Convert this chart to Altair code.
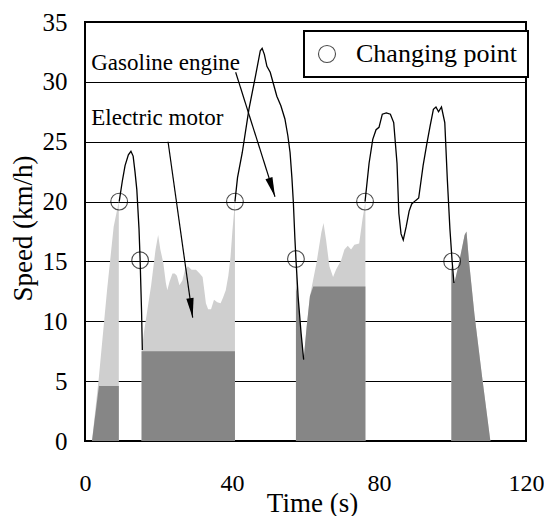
import altair as alt
import pandas as pd

# ---- Gasoline-engine speed trace (drawn as line), three segments ----
eng1_t = [9.3, 10.2, 10.9, 11.8, 12.5, 13.1, 13.6, 14.1, 14.7, 15.0, 15.4, 15.6]
eng1_v = [20.0, 21.8, 23.0, 23.9, 24.2, 23.8, 22.5, 21.0, 17.7, 15.1, 10.7, 7.6]
eng2_t = [40.8, 41.5, 42.8, 44.6, 46.4, 47.7, 48.2, 48.8, 49.5, 50.4, 51.3, 52.2,
          53.3, 54.4, 55.2, 55.8, 56.3, 56.7, 57.1, 57.4, 58.0, 58.8, 59.5]
eng2_v = [20.0, 22.0, 24.1, 27.7, 30.5, 32.6, 32.8, 32.3, 31.3, 30.8, 29.8, 28.8,
          28.0, 26.9, 25.5, 24.1, 22.0, 19.9, 17.0, 15.2, 12.0, 9.0, 6.8]
eng3_t = [76.2, 77.3, 78.3, 79.2, 80.0, 80.9, 82.0, 83.1, 84.0, 84.9, 85.4, 86.0,
          86.6, 87.4, 88.2, 88.9, 90.0, 90.8, 92.0, 93.0, 93.9, 94.8, 95.5, 96.2,
          97.0, 97.9, 98.6, 99.3, 99.9, 100.4]
eng3_v = [20.0, 23.2, 25.2, 26.0, 26.2, 27.3, 27.4, 27.3, 26.6, 23.2, 19.0, 17.3,
          16.8, 17.9, 19.2, 19.8, 20.1, 20.3, 23.0, 24.8, 26.3, 27.7, 27.9, 27.5,
          27.9, 26.6, 21.8, 17.7, 15.0, 13.2]

# ---- Electric-motor driven parts (shaded areas) ----
mot1_t = [1.9, 3.8, 6.0, 7.8, 9.2]
mot1_v = [0.0, 5.4, 12.6, 17.9, 20.0]
mot2_t = [15.4, 16.0, 17.0, 18.0, 19.2, 19.9, 20.5, 21.3, 22.0, 22.4, 23.0, 23.8,
          24.4, 25.0, 25.7, 26.5, 27.2, 28.0, 29.0, 30.2, 31.2, 32.0, 32.5, 32.9,
          33.5, 34.3, 35.1, 36.0, 36.9, 37.6, 38.3, 39.0, 39.6, 40.1, 40.8]
mot2_v = [7.5, 9.0, 11.0, 13.0, 16.0, 17.2, 16.0, 14.9, 13.2, 12.6, 13.3, 14.0,
          14.0, 13.8, 13.0, 13.4, 14.3, 14.6, 14.3, 14.3, 14.0, 13.7, 12.5, 11.5,
          11.0, 11.0, 11.8, 11.6, 11.5, 12.0, 12.6, 13.8, 15.4, 17.5, 20.0]
mot3_t = [57.4, 58.0, 58.8, 59.5, 60.3, 61.2, 62.1, 63.0, 64.3, 64.9, 65.6, 66.5,
          67.5, 68.3, 69.7, 70.6, 71.5, 72.4, 73.3, 74.6, 75.5, 76.3]
mot3_v = [15.2, 12.0, 9.0, 6.8, 9.5, 12.1, 13.5, 14.9, 17.4, 18.2, 16.8, 14.6,
          13.7, 14.3, 15.1, 16.0, 16.3, 16.0, 16.4, 16.5, 18.5, 20.0]
mot4_t = [99.7, 100.0, 100.5, 101.5, 102.5, 103.3, 103.8, 104.5, 106.0, 108.0, 110.3]
mot4_v = [14.6, 14.2, 13.2, 14.5, 16.0, 17.2, 17.5, 15.0, 10.5, 5.5, 0.0]
dark_levels = [4.6, 7.5, 12.9, 17.5]

# ---- Changing points ----
chg_t = [9.3, 15.0, 40.8, 57.4, 76.2, 99.9]
chg_v = [20.0, 15.1, 20.0, 15.2, 20.0, 15.0]

# ---- Annotations ----
ann_text = ["Gasoline engine", "Electric motor"]
ann_t = [1.7, 1.7]
ann_v = [31.0, 26.4]
arr_t1 = [41.0, 22.6]
arr_v1 = [30.8, 25.0]
arr_t2 = [51.7, 29.3]
arr_v2 = [20.4, 10.3]
arr_angle = [342, 352]

x_ticks = [0, 40, 80, 120]
y_ticks = [0, 5, 10, 15, 20, 25, 30, 35]

FONT = "Liberation Serif"

line_rows = []
for s, (ts, vs) in enumerate([(eng1_t, eng1_v), (eng2_t, eng2_v), (eng3_t, eng3_v)]):
    for i, (t, v) in enumerate(zip(ts, vs)):
        line_rows.append({"t": t, "v": v, "seg": s, "i": i})
line_df = pd.DataFrame(line_rows)

area_rows = []
for r, (ts, vs) in enumerate([(mot1_t, mot1_v), (mot2_t, mot2_v), (mot3_t, mot3_v), (mot4_t, mot4_v)]):
    for i, (t, v) in enumerate(zip(ts, vs)):
        area_rows.append({"t": t, "v": v, "region": r, "level": dark_levels[r], "i": i})
area_df = pd.DataFrame(area_rows)

chg_df = pd.DataFrame({"t": chg_t, "v": chg_v, "kind": ["Changing point"] * len(chg_t)})
ann_df = pd.DataFrame({"t": ann_t, "v": ann_v, "label": ann_text})
arr_df = pd.DataFrame({"t1": arr_t1, "v1": arr_v1, "t2": arr_t2, "v2": arr_v2, "ang": arr_angle})

xs = alt.Scale(domain=[0, 120], nice=False, zero=False)
ys = alt.Scale(domain=[0, 35], nice=False)

x_axis = alt.Axis(values=x_ticks, title="Time (s)", grid=False, ticks=False, domain=False,
                  labelFont=FONT, labelFontSize=24, labelColor="black",
                  labelBaseline="alphabetic", labelPadding=49, labelFlush=False,
                  titleFont=FONT, titleFontSize=27, titleFontWeight="normal", titleColor="black",
                  titleX=227, titleY=70, titleBaseline="alphabetic", titleAlign="center")
y_axis = alt.Axis(values=y_ticks, title="Speed (km/h)", grid=True, gridColor="black",
                  gridWidth=1, gridOpacity=1, ticks=False, domain=False,
                  labelFont=FONT, labelFontSize=25, labelColor="black", labelPadding=18,
                  labelFlush=False,
                  titleFont=FONT, titleFontSize=27, titleFontWeight="normal", titleColor="black",
                  titleAngle=270, titleX=-54, titleY=206, titleBaseline="alphabetic",
                  titleAlign="center")


def X(field):
    return alt.X(field, scale=xs, axis=x_axis)


def Y(field):
    return alt.Y(field, scale=ys, axis=y_axis, stack=None)


light = alt.Chart(area_df).mark_area(color="#cfcfcf", interpolate="linear").encode(
    x=X("t:Q"), y=Y("v:Q"), detail="region:N",
)

dark = alt.Chart(area_df).transform_calculate(
    vd="min(datum.v, datum.level)"
).mark_area(color="#868686", interpolate="linear").encode(
    x=X("t:Q"), y=Y("vd:Q"), detail="region:N",
)

line = alt.Chart(line_df).mark_line(color="black", strokeWidth=1.3).encode(
    x=X("t:Q"), y=Y("v:Q"), detail="seg:N", order="i:Q",
)

points = alt.Chart(chg_df).mark_point(shape="circle", filled=False, size=280, strokeWidth=1.1).encode(
    x=X("t:Q"), y=Y("v:Q"),
    color=alt.Color("kind:N", scale=alt.Scale(range=["black"]),
                    legend=alt.Legend(title=None, orient="none", legendX=219, legendY=9,
                                      strokeColor="black", fillColor="white",
                                      padding=10, symbolType="circle", symbolSize=290,
                                      symbolStrokeWidth=1.1, symbolFillColor="white",
                                      labelFont=FONT, labelFontSize=26, labelColor="black",
                                      labelOffset=16, labelLimit=400)),
)

rules = alt.Chart(arr_df).mark_rule(color="black", strokeWidth=1.2).encode(
    x=X("t1:Q"), y=Y("v1:Q"), x2="t2:Q", y2="v2:Q",
)

heads = alt.Chart(arr_df).mark_point(
    shape="M0,0 L-0.3,-1.6 L0.3,-1.6 Z", filled=True, color="black", size=600, opacity=1
).encode(
    x=X("t2:Q"), y=Y("v2:Q"),
    angle=alt.Angle("ang:Q", scale=None),
)

texts = alt.Chart(ann_df).mark_text(
    align="left", baseline="alphabetic", font=FONT, fontSize=23, color="black"
).encode(
    x=X("t:Q"), y=Y("v:Q"), text="label:N",
)

chart = alt.layer(light, dark, line, rules, heads, points, texts).properties(
    width=441, height=419,
    autosize=alt.AutoSizeParams(type="none"),
    padding={"left": 77, "top": 14, "right": 18, "bottom": 75},
    background="white",
).configure_view(stroke="black", strokeWidth=2).configure_legend(strokeWidth=2)

chart.save("out.html", embed_options={"renderer": "svg", "actions": False})
